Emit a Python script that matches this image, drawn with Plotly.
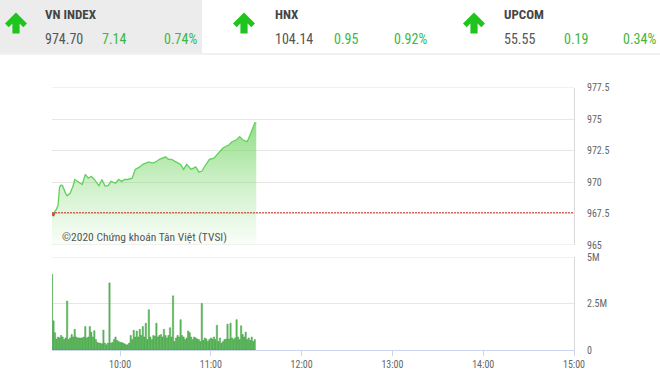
import pandas as pd
import plotly.graph_objects as go

DAY = "2020-06-01"
REF_LEVEL = 967.56

# Header data
index_names = ["VN INDEX", "HNX", "UPCOM"]
index_values = ["974.70", "104.14", "55.55"]
index_changes = ["7.14", "0.95", "0.19"]
index_pcts = ["0.74%", "0.92%", "0.34%"]

# Intraday VN-Index
idx_times = ["09:15", "09:16", "09:17", "09:18", "09:19", "09:20", "09:21", "09:22", "09:24", "09:25",
             "09:27", "09:29", "09:30", "09:32", "09:35", "09:37", "09:39", "09:41", "09:43", "09:46",
             "09:48", "09:50", "09:52", "09:54", "09:57", "09:59", "10:01", "10:03", "10:05", "10:08",
             "10:10", "10:13", "10:15", "10:19", "10:21", "10:23", "10:26", "10:30", "10:32", "10:34",
             "10:37", "10:40", "10:42", "10:44", "10:47", "10:50", "10:52", "10:54", "10:56", "10:59",
             "11:02", "11:05", "11:08", "11:12", "11:14", "11:17", "11:19", "11:21", "11:24", "11:26",
             "11:28", "11:29", "11:30"]
idx_values = [967.50, 967.30, 967.70, 967.85, 968.15, 969.60, 969.75, 969.70, 969.10, 968.90,
              969.10, 969.70, 970.20, 970.05, 969.80, 970.60, 970.30, 970.45, 970.20, 969.70,
              970.20, 969.70, 969.70, 970.05, 969.90, 970.20, 970.05, 970.20, 970.20, 970.30,
              971.00, 971.20, 971.40, 971.60, 971.50, 971.55, 971.80, 972.00, 971.80, 971.80,
              971.60, 971.40, 971.00, 971.40, 971.00, 971.20, 970.80, 970.85, 971.25, 971.80,
              971.90, 972.30, 972.70, 972.96, 973.20, 973.35, 973.60, 973.35, 973.20, 973.75,
              974.30, 974.70, 974.70]

# Per-minute volume (millions of shares), from 09:15
vol_start = "09:15"
vol_millions = [4.07, 1.57, 0.93, 0.59, 0.70, 0.65, 0.78, 0.70, 0.56, 0.65,
                2.63, 0.56, 0.65, 0.83, 0.70, 1.11, 0.70, 0.65, 0.65, 0.65,
                0.65, 0.70, 1.26, 0.65, 0.70, 1.26, 0.96, 0.70, 1.04, 0.56,
                0.41, 0.37, 0.37, 0.33, 1.07, 0.37, 0.28, 0.37, 3.61, 0.37,
                0.41, 0.56, 0.70, 0.52, 0.46, 0.41, 0.41, 0.37, 0.33, 0.28,
                0.28, 0.37, 0.78, 0.56, 1.06, 0.70, 1.02, 0.70, 1.11, 0.78,
                1.26, 0.70, 1.44, 0.56, 2.17, 0.70, 0.56, 0.78, 0.74, 1.44,
                0.70, 0.78, 0.83, 0.70, 1.11, 0.78, 0.65, 0.78, 1.20, 0.70,
                2.91, 0.46, 0.65, 0.78, 0.70, 1.63, 0.78, 0.70, 0.56, 0.65,
                1.02, 0.93, 0.70, 0.56, 0.70, 0.65, 0.59, 0.56, 0.46, 2.50,
                0.52, 0.65, 0.59, 0.46, 0.56, 0.65, 0.59, 0.70, 0.56, 1.33,
                0.46, 0.65, 0.37, 0.46, 0.56, 0.59, 1.39, 0.59, 1.44, 0.65,
                0.56, 0.65, 1.63, 0.70, 0.56, 1.30, 0.83, 0.70, 0.96, 0.56,
                0.65, 0.52, 0.70, 0.46, 0.56]

price_ticks = [965, 967.5, 970, 972.5, 975, 977.5]
price_tick_text = ["965", "967.5", "970", "972.5", "975", "977.5"]
vol_ticks = [0, 2.5e6, 5e6]
vol_tick_text = ["0", "2.5M", "5M"]
time_ticks = ["10:00", "11:00", "12:00", "13:00", "14:00", "15:00"]
session_open, session_close = "09:15", "15:00"

W, H = 660, 372
FONT = "Liberation Sans Narrow, Roboto Condensed, Roboto, Arial, sans-serif"
GREEN_TXT = "#3cb83c"
ARROW_GREEN = "#1fc41f"


def ts(hhmm):
    return pd.Timestamp(f"{DAY} {hhmm}")


def px(x):
    return x / W


def py(y):
    return 1 - y / H


t_idx = [ts(t) for t in idx_times]

# segments below the reference level (drawn red, like a zone)
red_x, red_y = [], []
for i in range(len(idx_values)):
    v = idx_values[i]
    if v < REF_LEVEL:
        red_x.append(t_idx[i]); red_y.append(v)
        if i + 1 < len(idx_values) and idx_values[i + 1] >= REF_LEVEL:
            f = (REF_LEVEL - v) / (idx_values[i + 1] - v)
            red_x.append(t_idx[i] + (t_idx[i + 1] - t_idx[i]) * f); red_y.append(REF_LEVEL)
            red_x.append(None); red_y.append(None)

vol_x = pd.date_range(ts(vol_start), periods=len(vol_millions), freq="min")
vol_y = [v * 1e6 for v in vol_millions]

X_DOM = [px(52), px(574)]
Y1_DOM = [py(245), py(87.5)]
Y2_DOM = [py(350), py(257)]
Y1_RANGE = [price_ticks[0], price_ticks[-1]]
Y2_RANGE = [vol_ticks[0], vol_ticks[-1]]

fig = go.Figure()
fig.add_trace(go.Scatter(
    x=t_idx, y=idx_values, mode="lines",
    line=dict(color="#62d05c", width=1.3),
    fill="tozeroy",
    fillgradient=dict(type="vertical", start=964.5, stop=975.0,
                      colorscale=[[0, "rgba(120,214,105,0.0)"],
                                  [0.5, "rgba(120,214,105,0.35)"],
                                  [1, "rgba(110,212,95,0.78)"]]),
    hoverinfo="skip", showlegend=False, xaxis="x", yaxis="y"))
fig.add_trace(go.Scatter(
    x=red_x, y=red_y, mode="lines", line=dict(color="#d23a2a", width=1.3),
    hoverinfo="skip", showlegend=False, xaxis="x", yaxis="y"))
fig.add_trace(go.Bar(
    x=vol_x, y=vol_y,
    marker=dict(color="#62c062", line=dict(color="#2e8f2e", width=0.4)),
    hoverinfo="skip", showlegend=False, xaxis="x2", yaxis="y2"))

grid = "#e6e6e6"
border = "#d9d9d9"

shapes = []
# edge grid lines (top/bottom of each pane)
for yv in (Y1_RANGE[0], Y1_RANGE[1]):
    shapes.append(dict(type="line", xref="x domain", yref="y", x0=0, x1=1, y0=yv, y1=yv,
                       line=dict(color=grid, width=1), layer="below"))
shapes.append(dict(type="line", xref="x2 domain", yref="y2", x0=0, x1=1,
                   y0=Y2_RANGE[1], y1=Y2_RANGE[1], line=dict(color=grid, width=1), layer="below"))
# reference line
shapes.append(dict(type="line", xref="x domain", yref="y", x0=0, x1=1,
                   y0=REF_LEVEL, y1=REF_LEVEL,
                   line=dict(color="#c0392b", width=1, dash="2px,1px")))
# header background
shapes.append(dict(type="rect", xref="paper", yref="paper", x0=0, x1=px(202),
                   y0=py(53), y1=py(0), fillcolor="#ececec", line=dict(width=0), layer="below"))
shapes.append(dict(type="rect", xref="paper", yref="paper", x0=0, x1=1,
                   y0=py(55), y1=py(53), fillcolor="#f1f1f1", line=dict(width=0), layer="below"))

annotations = []
arrow_cx = [16, 244, 474]
name_x = [43, 273, 502]
chg_x = [100, 332, 562]
pct_x = [162, 392, 621]
arrow_pts = [(0, 0), (11, 11), (7.3, 14.7), (3.6, 11), (3.6, 21), (-3.6, 21),
             (-3.6, 11), (-7.3, 14.7), (-11, 11)]
for k in range(len(index_names)):
    cx, ty = arrow_cx[k], 12.5
    path = "M " + " L ".join(f"{px(cx + dx):.5f},{py(ty + dy):.5f}" for dx, dy in arrow_pts) + " Z"
    shapes.append(dict(type="path", xref="paper", yref="paper", path=path,
                       fillcolor=ARROW_GREEN, line=dict(width=0)))
    annotations.append(dict(x=px(name_x[k]), y=py(15), xref="paper", yref="paper",
                            text=f"<b>{index_names[k]}</b>", showarrow=False,
                            xanchor="left", yanchor="middle",
                            font=dict(family=FONT, size=13, color="#444444")))
    annotations.append(dict(x=px(name_x[k]), y=py(39), xref="paper", yref="paper",
                            text=index_values[k], showarrow=False,
                            xanchor="left", yanchor="middle",
                            font=dict(family=FONT, size=14, color="#555555")))
    annotations.append(dict(x=px(chg_x[k]), y=py(39), xref="paper", yref="paper",
                            text=index_changes[k], showarrow=False,
                            xanchor="left", yanchor="middle",
                            font=dict(family=FONT, size=14, color=GREEN_TXT)))
    annotations.append(dict(x=px(pct_x[k]), y=py(39), xref="paper", yref="paper",
                            text=index_pcts[k], showarrow=False,
                            xanchor="left", yanchor="middle",
                            font=dict(family=FONT, size=14, color=GREEN_TXT)))

annotations.append(dict(x=px(60), y=py(237), xref="paper", yref="paper",
                        text="©2020 Chứng khoán Tân Việt (TVSI)", showarrow=False,
                        xanchor="left", yanchor="middle",
                        font=dict(family=FONT, size=11.5, color="#555555")))

x_range = [ts(session_open), ts(session_close)]
tickfont = dict(family=FONT, size=10, color="#666666")

fig.update_layout(
    width=W, height=H, margin=dict(l=0, r=0, t=0, b=0),
    paper_bgcolor="white", plot_bgcolor="white", template="none",
    showlegend=False, bargap=0.12,
    shapes=shapes, annotations=annotations,
    xaxis=dict(domain=X_DOM, range=x_range, type="date", anchor="y",
               showgrid=False, showticklabels=False, ticks="", showline=False,
               zeroline=False, automargin=False),
    yaxis=dict(domain=Y1_DOM, range=Y1_RANGE, side="right", anchor="x",
               tickvals=price_ticks, ticktext=price_tick_text, tickfont=tickfont,
               showgrid=True, gridcolor=grid, gridwidth=1, ticks="",
               ticklabelstandoff=10, showline=True, linecolor=border, linewidth=1,
               zeroline=False, automargin=False),
    xaxis2=dict(domain=X_DOM, range=x_range, type="date", anchor="y2",
                tickvals=[ts(t) for t in time_ticks], ticktext=time_ticks,
                tickfont=dict(family=FONT, size=10, color="#666666"),
                ticks="outside", ticklen=5, tickcolor="#ccd6eb",
                showgrid=False, showline=True, linecolor="#ccd6eb", linewidth=1,
                zeroline=False, automargin=False),
    yaxis2=dict(domain=Y2_DOM, range=Y2_RANGE, side="right", anchor="x2",
                tickvals=vol_ticks, ticktext=vol_tick_text, tickfont=tickfont,
                showgrid=True, gridcolor=grid, gridwidth=1, ticks="",
                ticklabelstandoff=10, showline=True, linecolor=border, linewidth=1,
                zeroline=False, automargin=False),
)

fig.write_html("out.html")
